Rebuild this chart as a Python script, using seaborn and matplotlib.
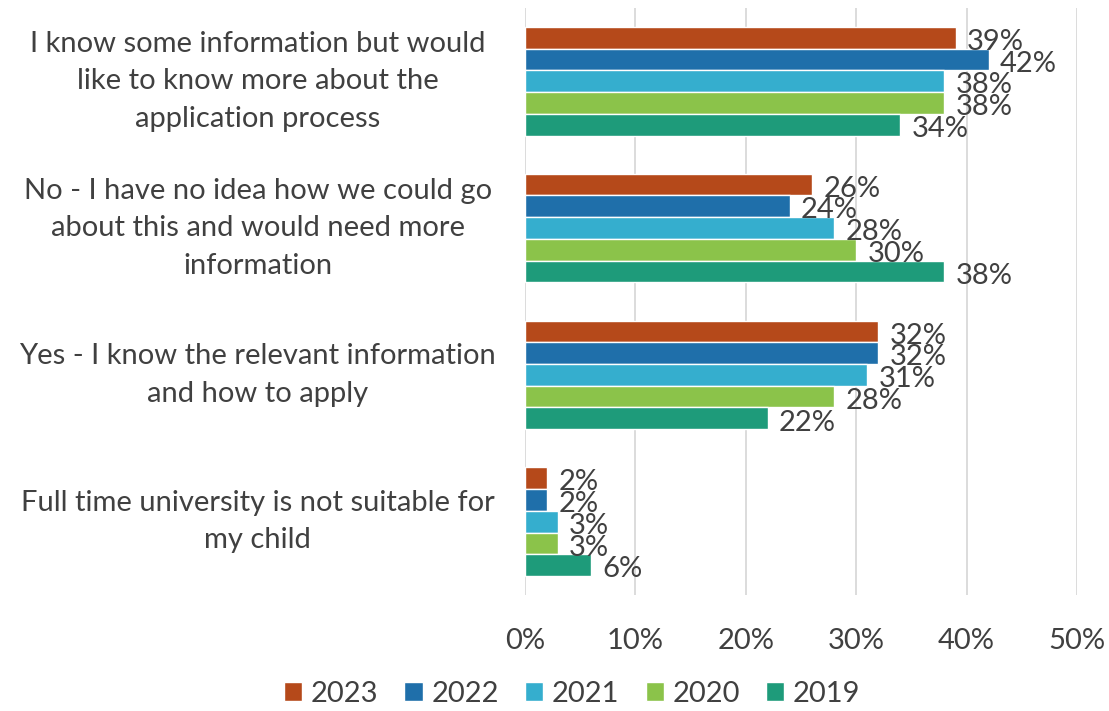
import pandas as pd
import matplotlib.pyplot as plt
import seaborn as sns

# ---- data ----
categories = [
    "I know some information but would\nlike to know more about the\napplication process",
    "No - I have no idea how we could go\nabout this and would need more\ninformation",
    "Yes - I know the relevant information\nand how to apply",
    "Full time university is not suitable for\nmy child",
]
years = ["2023", "2022", "2021", "2020", "2019"]
vals_2023 = [39, 26, 32, 2]
vals_2022 = [42, 24, 32, 2]
vals_2021 = [38, 28, 31, 3]
vals_2020 = [38, 30, 28, 3]
vals_2019 = [34, 38, 22, 6]
colors = ["#B5491A", "#1F6FAA", "#35AECE", "#8BC34A", "#1E9B7A"]

series = [vals_2023, vals_2022, vals_2021, vals_2020, vals_2019]
rows = []
for yr, vals in zip(years, series):
    for cat, v in zip(categories, vals):
        rows.append({"Category": cat, "Year": yr, "Value": v})
data = pd.DataFrame(rows)

# ---- plot ----
sns.set_theme(style="white")
plt.rcParams['font.family'] = ['Lato', 'DejaVu Sans']
txt = "#404040"
fs = 21

fig = plt.figure(figsize=(11.09, 7.11), dpi=100)
ax = fig.add_axes([0.4734, 0.163, 0.4977, 0.826])

sns.barplot(data=data, y="Category", x="Value", hue="Year", order=categories,
            hue_order=years, palette=colors, width=0.74, orient="h",
            saturation=1, ax=ax, legend=True)

for cont in ax.containers:
    labs = ax.bar_label(cont, labels=[f"{int(v)}%" for v in cont.datavalues],
                        padding=8, fontsize=fs, color=txt)
    for t in labs:
        t.set_y(-3)  # nudge down a little like the original

ax.set_xlim(0, 50)
ax.set_xticks(range(0, 51, 10))
ax.set_xticklabels([f"{t}%" for t in range(0, 51, 10)])
ax.xaxis.grid(True, color="#D9D9D9", linewidth=1.3)
ax.set_axisbelow(True)
for s in ax.spines.values():
    s.set_visible(False)
ax.tick_params(axis="x", labelsize=fs, colors=txt, pad=24, length=0)
ax.set_yticks([])
ax.set_xlabel("")
ax.set_ylabel("")

# category labels, centred in the left margin
for i, cat in enumerate(categories):
    ax.text(-0.484, i, cat, transform=ax.get_yaxis_transform(), ha="center",
            va="center", multialignment="center", fontsize=fs, color=txt,
            linespacing=1.55)

handles, labels = ax.get_legend_handles_labels()
ax.legend_.remove()
fig.legend(handles, labels, loc="center", bbox_to_anchor=(0.516, 0.024), ncol=5,
           frameon=False, fontsize=fs, handlelength=0.62, handleheight=0.62,
           handletextpad=0.3, columnspacing=0.9, labelcolor=txt,
           borderpad=0.1)

plt.savefig("out.png", dpi=100)
plt.close()
